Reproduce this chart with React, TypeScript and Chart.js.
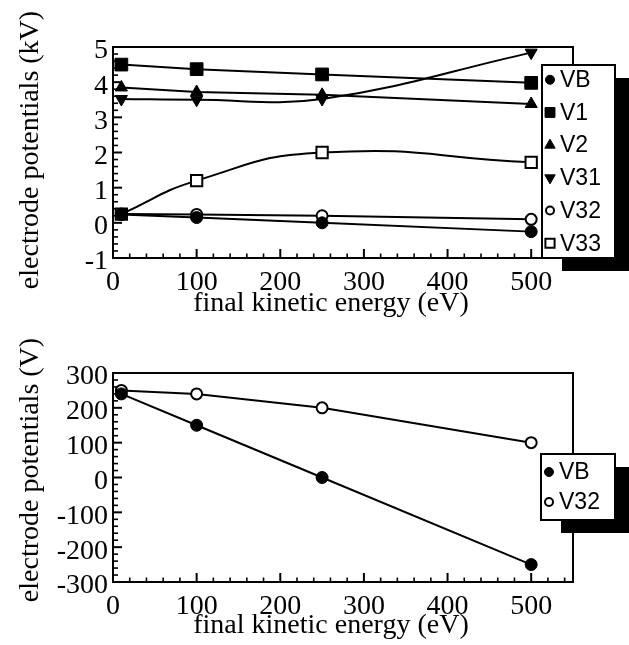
import React, { useEffect, useRef } from 'react';
import { Chart, registerables } from 'chart.js';
Chart.register(...registerables);

// ---------- data ----------
const energies = [10, 100, 250, 500];

const topVB = [0.24, 0.15, 0.0, -0.25];
const topV1 = [4.5, 4.37, 4.22, 3.98];
const topV2 = [3.85, 3.72, 3.64, 3.38];
const topV31 = [3.52, 3.5, 3.52, 4.84];
const topV32 = [0.25, 0.24, 0.2, 0.1];
const topV33 = [0.25, 1.2, 2.0, 1.72];

const bottomVB = [240, 150, 0, -250];
const bottomV32 = [250, 240, 200, 100];

const seriesLabels = ['VB', 'V1', 'V2', 'V31', 'V32', 'V33'];
const xTitle = 'final kinetic energy (eV)';
const topYTitle = 'electrode potentials (kV)';
const bottomYTitle = 'electrode potentials (V)';

// ---------- styling helpers ----------
type Marker = { style: string; rotation: number; filled: boolean; radius: number; legendR: number; tension: number };

const markers: Record<string, Marker> = {
  VB: { style: 'circle', rotation: 0, filled: true, radius: 6, legendR: 4.5, tension: 0 },
  V1: { style: 'rect', rotation: 0, filled: true, radius: 9, legendR: 7, tension: 0 },
  V2: { style: 'triangle', rotation: 0, filled: true, radius: 7, legendR: 6, tension: 0 },
  V31: { style: 'triangle', rotation: 180, filled: true, radius: 7, legendR: 6, tension: 0.4 },
  V32: { style: 'circle', rotation: 0, filled: false, radius: 5.5, legendR: 4, tension: 0 },
  V33: { style: 'rect', rotation: 0, filled: false, radius: 8, legendR: 6.5, tension: 0.5 },
};

function makeDataset(label: string, values: number[]) {
  const m = markers[label];
  return {
    label,
    data: energies.map((x, i) => ({ x, y: values[i] })),
    borderColor: '#000',
    borderWidth: 2,
    backgroundColor: '#000',
    pointStyle: m.style,
    pointRotation: m.rotation,
    pointRadius: m.radius,
    pointHoverRadius: m.radius,
    pointBackgroundColor: m.filled ? '#000' : '#fff',
    pointBorderColor: '#000',
    pointBorderWidth: m.filled ? 1 : 2,
    tension: m.tension,
    fill: false,
  };
}

function drawMarker(ctx: CanvasRenderingContext2D, m: Marker, x: number, y: number) {
  const r = m.legendR;
  ctx.save();
  ctx.beginPath();
  if (m.style === 'circle') {
    ctx.arc(x, y, r, 0, Math.PI * 2);
  } else if (m.style === 'rect') {
    const s = r * Math.SQRT1_2;
    ctx.rect(x - s, y - s, 2 * s, 2 * s);
  } else {
    let rad = (m.rotation * Math.PI) / 180;
    ctx.moveTo(x + Math.sin(rad) * r, y - Math.cos(rad) * r);
    rad += (2 * Math.PI) / 3;
    ctx.lineTo(x + Math.sin(rad) * r, y - Math.cos(rad) * r);
    rad += (2 * Math.PI) / 3;
    ctx.lineTo(x + Math.sin(rad) * r, y - Math.cos(rad) * r);
    ctx.closePath();
  }
  ctx.fillStyle = m.filled ? '#000' : '#fff';
  ctx.fill();
  ctx.lineWidth = m.filled ? 1 : 2;
  ctx.strokeStyle = '#000';
  ctx.stroke();
  ctx.restore();
}

type Deco = {
  xMinor: number; xMajor: number; yMinor: number; yMajor: number;
  legend: { left: number; top: number; width: number; height: number; row: number };
  xTitleX: number; xTitleY: number; yTitleX: number; yTitleY: number; yTitle: string;
};

function decoPlugin(d: Deco) {
  return {
    id: 'deco',
    beforeDatasetsDraw(chart: any) {
      const { ctx, chartArea: a, scales } = chart;
      ctx.save();
      ctx.strokeStyle = '#000';
      ctx.lineWidth = 2;
      ctx.strokeRect(a.left, a.top, a.right - a.left, a.bottom - a.top);
      const xs = scales.x;
      const nx = Math.floor((xs.max - xs.min) / d.xMinor + 1e-6);
      for (let i = 0; i <= nx; i++) {
        const v = xs.min + i * d.xMinor;
        const major = Math.abs(v / d.xMajor - Math.round(v / d.xMajor)) < 1e-6;
        const px = xs.getPixelForValue(v);
        ctx.lineWidth = major ? 2 : 1.6;
        ctx.beginPath();
        ctx.moveTo(px, a.bottom);
        ctx.lineTo(px, a.bottom - (major ? 9 : 4.5));
        ctx.stroke();
      }
      const ys = scales.y;
      const ny = Math.floor((ys.max - ys.min) / d.yMinor + 1e-6);
      for (let i = 0; i <= ny; i++) {
        const v = ys.min + i * d.yMinor;
        const major = Math.abs(v / d.yMajor - Math.round(v / d.yMajor)) < 1e-6;
        const py = ys.getPixelForValue(v);
        ctx.lineWidth = major ? 2 : 1.6;
        ctx.beginPath();
        ctx.moveTo(a.left, py);
        ctx.lineTo(a.left + (major ? 9 : 5), py);
        ctx.stroke();
      }
      ctx.restore();
    },
    afterDraw(chart: any) {
      const { ctx } = chart;
      ctx.save();
      // axis titles
      ctx.fillStyle = '#000';
      ctx.font = '28px "Liberation Serif", "Times New Roman", serif';
      ctx.textAlign = 'center';
      ctx.textBaseline = 'alphabetic';
      ctx.fillText(xTitle, d.xTitleX, d.xTitleY);
      ctx.save();
      ctx.translate(d.yTitleX, d.yTitleY);
      ctx.rotate(-Math.PI / 2);
      ctx.fillText(d.yTitle, 0, 0);
      ctx.restore();
      // legend with shadow
      const L = d.legend;
      ctx.fillStyle = '#000';
      ctx.fillRect(L.left + 20, L.top + 13, L.width, L.height);
      ctx.fillStyle = '#fff';
      ctx.fillRect(L.left, L.top, L.width, L.height);
      ctx.strokeStyle = '#000';
      ctx.lineWidth = 2;
      ctx.strokeRect(L.left, L.top, L.width, L.height);
      const ds = chart.data.datasets;
      const start = L.top + (L.height - (ds.length - 1) * L.row) / 2;
      ctx.font = '23px "Liberation Sans", Arial, sans-serif';
      ctx.textAlign = 'left';
      ctx.textBaseline = 'middle';
      ds.forEach((s: any, i: number) => {
        const y = start + i * L.row;
        drawMarker(ctx, markers[s.label], L.left + 8, y);
        ctx.fillStyle = '#000';
        ctx.fillText(s.label, L.left + 18, y + 1);
      });
      ctx.restore();
    },
  };
}

function makeConfig(datasets: any[], yMin: number, yMax: number, yStep: number, padTop: number, xHeight: number, deco: Deco): any {
  const tickFont = { family: '"Liberation Serif", "Times New Roman", serif', size: 28 };
  return {
    type: 'line',
    data: { datasets },
    options: {
      responsive: false,
      animation: false,
      events: [],
      layout: { padding: { left: 0, top: padTop, right: 56, bottom: 0 } },
      plugins: { legend: { display: false }, tooltip: { enabled: false } },
      scales: {
        x: {
          type: 'linear',
          min: 0,
          max: 550,
          grid: { display: false, drawTicks: false },
          border: { display: false },
          ticks: { stepSize: 100, includeBounds: false, padding: 8, font: tickFont, color: '#000', maxRotation: 0, autoSkip: false },
          afterFit: (s: any) => { s.height = xHeight; },
        },
        y: {
          type: 'linear',
          min: yMin,
          max: yMax,
          grid: { display: false, drawTicks: false },
          border: { display: false },
          ticks: { stepSize: yStep, padding: 5, labelOffset: 4, font: tickFont, color: '#000', autoSkip: false },
          afterFit: (s: any) => { s.width = 113; },
        },
      },
    },
    plugins: [decoPlugin(deco)],
  };
}

export default function App() {
  const topRef = useRef<HTMLCanvasElement>(null);
  const botRef = useRef<HTMLCanvasElement>(null);

  useEffect(() => {
    const topValues = [topVB, topV1, topV2, topV31, topV32, topV33];
    const topSets = seriesLabels.map((l, i) => makeDataset(l, topValues[i]));
    const botSets = [makeDataset('VB', bottomVB), makeDataset('V32', bottomV32)];

    const c1 = new Chart(
      topRef.current as HTMLCanvasElement,
      makeConfig(topSets, -1, 5, 1, 47, 64, {
        xMinor: 20, xMajor: 100, yMinor: 0.2, yMajor: 1,
        legend: { left: 542, top: 65, width: 73, height: 193, row: 32.7 },
        xTitleX: 331, xTitleY: 311, yTitleX: 38, yTitleY: 150, yTitle: topYTitle,
      })
    );
    const c2 = new Chart(
      botRef.current as HTMLCanvasElement,
      makeConfig(botSets, -300, 300, 100, 51, 63, {
        xMinor: 20, xMajor: 100, yMinor: 20, yMajor: 100,
        legend: { left: 541, top: 132, width: 74, height: 66, row: 30 },
        xTitleX: 331, xTitleY: 311, yTitleX: 38, yTitleY: 148, yTitle: bottomYTitle,
      })
    );
    return () => { c1.destroy(); c2.destroy(); };
  }, []);

  return (
    <div style={{ position: 'absolute', left: 0, top: 0, width: 629, height: 645, background: '#fff' }}>
      <canvas ref={topRef} width={629} height={322} style={{ display: 'block' }} />
      <canvas ref={botRef} width={629} height={323} style={{ display: 'block' }} />
    </div>
  );
}
